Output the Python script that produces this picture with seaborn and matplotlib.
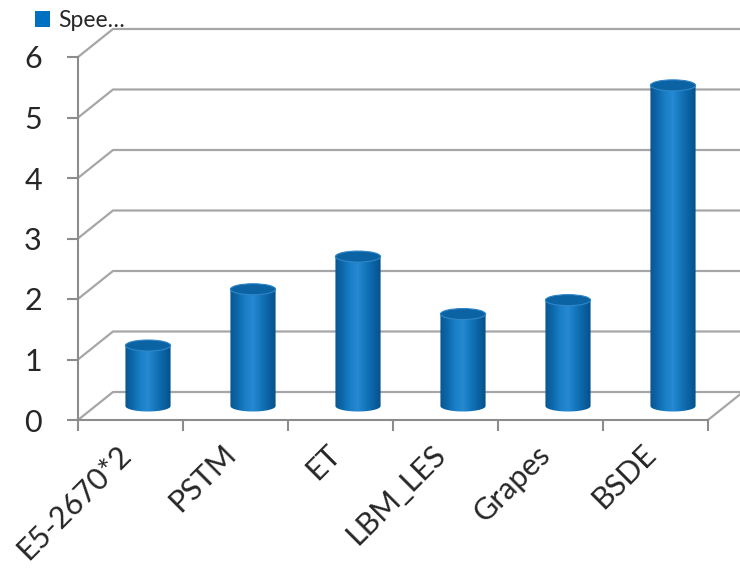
import numpy as np
import matplotlib
matplotlib.use("Agg")
import matplotlib.pyplot as plt
from matplotlib.patches import Ellipse, Patch, PathPatch
from matplotlib.path import Path
from matplotlib.colors import LinearSegmentedColormap
from matplotlib.transforms import ScaledTranslation
import seaborn as sns

categories = ["E5-2670*2", "PSTM", "ET", "LBM_LES", "Grapes", "BSDE"]
speedup = [1.0, 1.93, 2.47, 1.52, 1.75, 5.3]
y_ticks = [0, 1, 2, 3, 4, 5, 6]
legend_label = "Spee…"

sns.set_style("white")
plt.rcParams["font.family"] = ["Lato", "DejaVu Sans"]

W, H = 740, 572
fig = plt.figure(figsize=(W / 100, H / 100), dpi=100)

GRID = "#a6a6a6"
AXIS = "#8c8c8c"
BLUE = "#0070c0"

# front plane of the 3-D box, in pixels
fx0, fx1 = 78, 708
fy0, fy1 = 420, 57
shift_x, shift_y = 35, 28          # back wall offset


def frac(x0, yb, x1, yt):
    return [x0 / W, 1 - yb / H, (x1 - x0) / W, (yb - yt) / H]


n = len(categories)
ymax = y_ticks[-1]
unit_px = (fy0 - fy1) / ymax

ax = fig.add_axes(frac(fx0, fy0, fx1, fy1))
ax.set_xlim(-0.5, n - 0.5)
ax.set_ylim(0, ymax)
ax.patch.set_visible(False)
for s in ["top", "right"]:
    ax.spines[s].set_visible(False)
for s in ["left", "bottom"]:
    ax.spines[s].set_color(AXIS)
    ax.spines[s].set_linewidth(1.5)

ddx = shift_x / ((fx1 - fx0) / n)
ddy = shift_y / unit_px

# back wall gridlines with the left side wall diagonals
for v in y_ticks:
    ax.plot([-0.5, -0.5 + ddx, n - 0.5 + ddx + 1], [v, v + ddy, v + ddy],
            color=GRID, lw=1.6, clip_on=False, zorder=1)
# right edge of the floor
ax.plot([n - 0.5, n - 0.5 + ddx], [0, ddy], color=GRID, lw=1.6,
        clip_on=False, zorder=1)

ax.set_yticks(y_ticks)
ax.set_yticklabels([str(t) for t in y_ticks])
ax.tick_params(axis="y", length=8, width=1.5, color=AXIS, pad=18,
               labelsize=22, left=True)
ax.set_xticks(np.arange(n + 1) - 0.5)
ax.set_xticklabels([])
ax.tick_params(axis="x", which="major", length=8, width=1.5, color=AXIS,
               bottom=True)
ax.set_xticks(np.arange(n), minor=True)
ax.set_xticklabels(categories, minor=True, rotation=45, ha="right",
                   va="baseline", rotation_mode="anchor", fontsize=22)
ax.tick_params(axis="x", which="minor", length=0, pad=26)
for lab in ax.get_xticklabels(minor=True):
    lab.set_transform(lab.get_transform()
                      + ScaledTranslation(2 / 100, 0, fig.dpi_scale_trans))

# cylinders stand on the mid-depth plane; a little room below zero
# keeps the rounded bottoms visible
bx = shift_x / 2
by = shift_y / 2
below = 0.4
axb = fig.add_axes(frac(fx0 + bx, fy0 - by + below * unit_px,
                        fx1 + bx, fy1 - by))
axb.set_zorder(ax.get_zorder() + 1)
bar_w = 0.43
sns.barplot(x=categories, y=speedup, ax=axb, width=bar_w, color=BLUE,
            saturation=1, legend=False)
axb.axis("off")

ell_h = 11 / unit_px
shade = LinearSegmentedColormap.from_list(
    "cyl", ["#0a5690", "#0c68ab", "#1a7fc6", "#2689d1", "#1476bc",
            "#0a63a4", "#075089"])
grad = np.linspace(0, 1, 256)[None, :]
t = np.linspace(np.pi, 2 * np.pi, 60)

for p in list(axb.patches):
    x0, w, h = p.get_x(), p.get_width(), p.get_height()
    cx = x0 + w / 2
    p.set_visible(False)
    verts = [(x0, h), (x0, 0)]
    verts += list(zip(cx + w / 2 * np.cos(t), ell_h / 2 * np.sin(t)))
    verts += [(x0 + w, h), (x0, h)]
    codes = [Path.MOVETO] + [Path.LINETO] * (len(verts) - 2) + [Path.CLOSEPOLY]
    body = PathPatch(Path(verts, codes), transform=axb.transData,
                     facecolor="none", edgecolor="none")
    axb.add_patch(body)
    im = axb.imshow(grad, extent=[x0, x0 + w, -ell_h / 2 - 0.02, h],
                    aspect="auto", cmap=shade, zorder=2)
    im.set_clip_path(body)
    axb.add_patch(Ellipse((cx, h), w, ell_h, facecolor="#0b63a4",
                          edgecolor="#2f86c8", lw=0.8, zorder=3))
axb.set_xlim(-0.5, n - 0.5)
axb.set_ylim(-below, ymax)

fig.legend(handles=[Patch(facecolor=BLUE, edgecolor="none")],
           labels=[legend_label], loc="upper left",
           bbox_to_anchor=(35 / W, 1 - 10 / H), frameon=False, fontsize=16.5,
           handlelength=0.65, handleheight=0.65, handletextpad=0.35,
           borderpad=0, borderaxespad=0)

fig.savefig("out.png", dpi=100)
